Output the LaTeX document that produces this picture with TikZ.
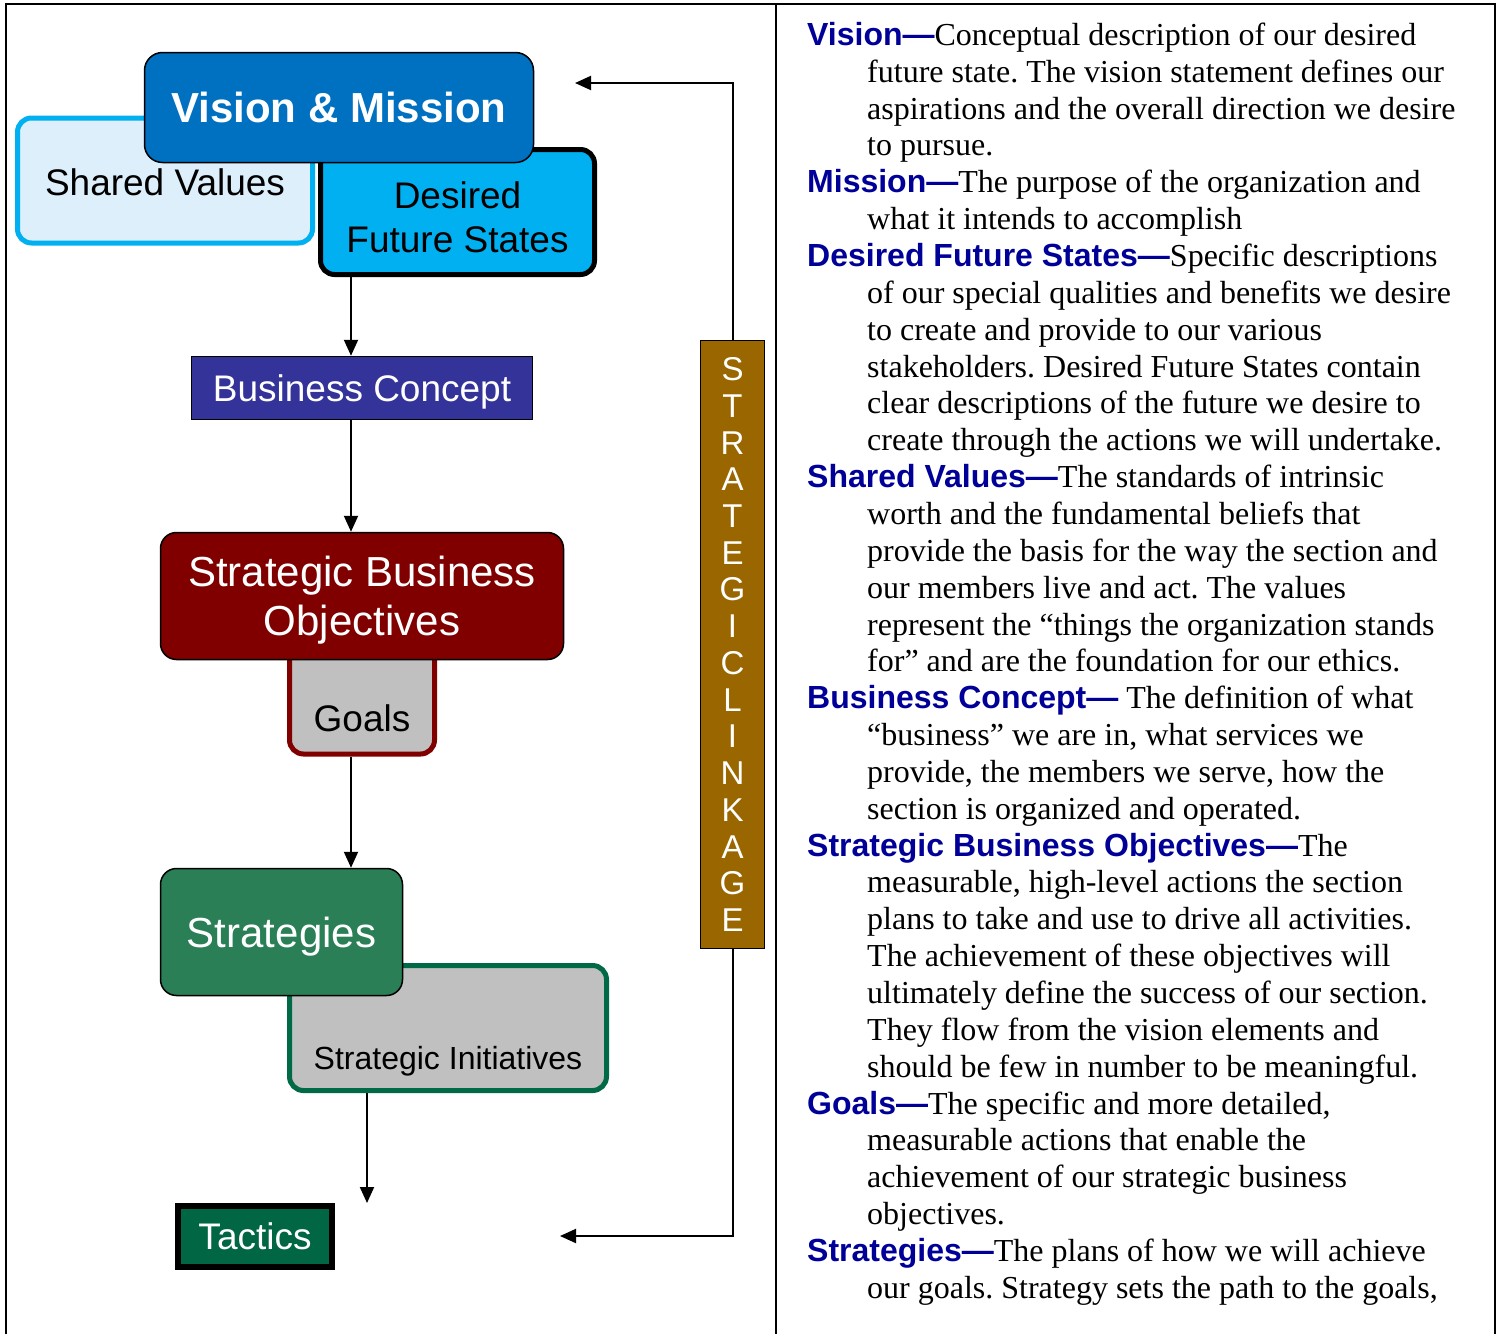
\documentclass[tikz,border=0pt]{standalone}
\usepackage{fontspec}
\setmainfont{Liberation Serif}
\setsansfont{Liberation Sans}
\usetikzlibrary{arrows.meta}
\frenchspacing

\definecolor{vmblue}{HTML}{0070C0}
\definecolor{skyblue}{HTML}{00B0F0}
\definecolor{paleblue}{HTML}{DCEFFB}
\definecolor{bcblue}{HTML}{333399}
\definecolor{sbored}{HTML}{800000}
\definecolor{boxgray}{HTML}{C0C0C0}
\definecolor{stratgreen}{HTML}{2A7F56}
\definecolor{initgreen}{HTML}{006A47}
\definecolor{tacgreen}{HTML}{006644}
\definecolor{linkbrown}{HTML}{996600}
\definecolor{termblue}{HTML}{000099}

\tikzset{
  box/.style={draw=black, line width=1.5pt, inner sep=0pt, align=center, text depth=0pt, font=\sffamily\fontsize{37}{44}\selectfont},
  bigbox/.style={box, rounded corners=16pt, text=white, font=\sffamily\fontsize{42}{49}\selectfont},
  tabbox/.style={box, rounded corners=14pt, line width=5pt},
}

\newcommand{\term}[1]{{\sffamily\bfseries\color{termblue}#1\textemdash}}
\newcommand{\ind}{\hspace*{60pt}}

\begin{document}
\begin{tikzpicture}[x=1pt,y=-1pt,>={Triangle[length=16pt,width=14pt]}]
\useasboundingbox (0,0) rectangle (1501,1334);
\fill[white] (0,0) rectangle (1501,1334);
\draw[line width=2pt] (6,1334) -- (6,4) -- (1495,4) -- (1495,1334);
\draw[line width=2pt] (776,4) -- (776,1334);

\node[tabbox, draw=skyblue, fill=paleblue, minimum width=295pt, text height=77pt, text depth=48pt, anchor=base] (sv) at (165,195) {Shared Values};
\node[tabbox, fill=skyblue, minimum width=274pt, minimum height=125pt, text height=80pt] (dfs) at (457.5,212) {Desired\\Future States};
\node[bigbox, fill=vmblue, minimum width=389pt, minimum height=110pt, rounded corners=18pt, font=\sffamily\bfseries\fontsize{42}{49}\selectfont] (vm) at (339,107.5) {Vision \& Mission};

\node[box, fill=bcblue, text=white, minimum width=341pt, minimum height=63pt] (bc) at (362,388) {Business Concept};

\node[tabbox, draw=sbored, fill=boxgray, minimum width=145pt, text height=101pt, text depth=23pt, anchor=base] (goals) at (362,731) {Goals};
\node[bigbox, fill=sbored, minimum width=403pt, minimum height=127pt] (sbo) at (362,596) {Strategic Business\\Objectives};

\node[tabbox, draw=initgreen, fill=boxgray, minimum width=317pt, text height=104pt, text depth=21pt, anchor=base, font=\sffamily\fontsize{32}{38}\selectfont] (si) at (448,1069.5) {Strategic Initiatives};
\node[bigbox, fill=stratgreen, minimum width=242pt, minimum height=127pt] (strat) at (281.5,932) {Strategies};

\node[box, fill=tacgreen, text=white, line width=6pt, minimum width=154pt, minimum height=61pt] (tac) at (255,1236.5) {Tactics};

\node[box, fill=linkbrown, text=white, minimum width=64pt, minimum height=608pt, font=\sffamily\fontsize{33}{36.73}\selectfont] (link) at (732.5,644.5) {S\\T\\R\\A\\T\\E\\G\\I\\C\\L\\I\\N\\K\\A\\G\\E};

\coordinate (spine) at (351,0);
\coordinate (vmin) at (575,83);
\coordinate (tacin) at (560,1236);
\coordinate (sidown) at (367,1203);

\draw[->, line width=2pt] (spine |- dfs.south) -- (spine |- bc.north);
\draw[->, line width=2pt] (spine |- bc.south) -- (spine |- sbo.north);
\draw[->, line width=2pt] (spine |- goals.south) -- (spine |- strat.north);
\draw[->, line width=2pt] (sidown |- si.south) -- (sidown);
\draw[->, line width=2pt] (link.north) |- (vmin);
\draw[->, line width=2pt] (link.south) |- (tacin);

\node[anchor=north west, inner sep=0pt, align=left, font=\fontsize{32}{36.85}\selectfont] (defs) at (807,22) {%
\term{Vision}Conceptual description of our desired\\
\ind future state. The vision statement defines our\\
\ind aspirations and the overall direction we desire\\
\ind to pursue.\\
\term{Mission}The purpose of the organization and\\
\ind what it intends to accomplish\\
\term{Desired Future States}Specific descriptions\\
\ind of our special qualities and benefits we desire\\
\ind to create and provide to our various\\
\ind stakeholders. Desired Future States contain\\
\ind clear descriptions of the future we desire to\\
\ind create through the actions we will undertake.\\
\term{Shared Values}The standards of intrinsic\\
\ind worth and the fundamental beliefs that\\
\ind provide the basis for the way the section and\\
\ind our members live and act. The values\\
\ind represent the “things the organization stands\\
\ind for” and are the foundation for our ethics.\\
\term{Business Concept} The definition of what\\
\ind “business” we are in, what services we\\
\ind provide, the members we serve, how the\\
\ind section is organized and operated.\\
\term{Strategic Business Objectives}The\\
\ind measurable, high-level actions the section\\
\ind plans to take and use to drive all activities.\\
\ind The achievement of these objectives will\\
\ind ultimately define the success of our section.\\
\ind They flow from the vision elements and\\
\ind should be few in number to be meaningful.\\
\term{Goals}The specific and more detailed,\\
\ind measurable actions that enable the\\
\ind achievement of our strategic business\\
\ind objectives.\\
\term{Strategies}The plans of how we will achieve\\
\ind our goals. Strategy sets the path to the goals,};
\end{tikzpicture}
\end{document}
